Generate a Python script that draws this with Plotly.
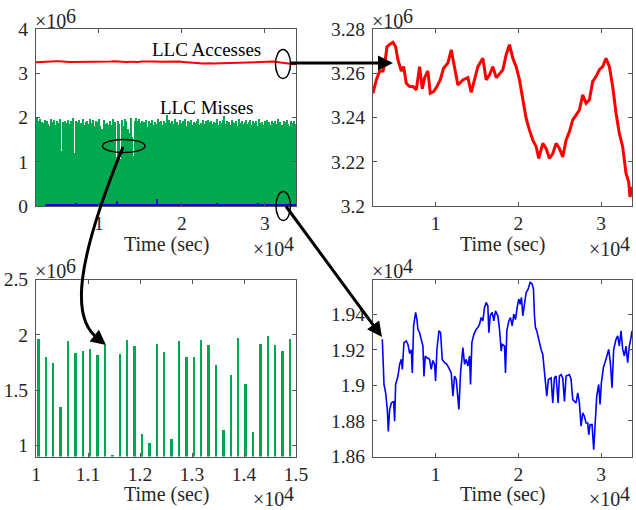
import plotly.graph_objects as go

W, H = 636, 510

# ---------------- data (time in units of 1e4 s) ----------------
# LLC Accesses (x1e6)
red_t = [0.2435, 0.2837, 0.3239, 0.3642, 0.3843, 0.4125, 0.4447, 0.4849, 0.5171, 0.5453,
         0.5855, 0.6137, 0.6459, 0.6861, 0.7264, 0.7666, 0.8068, 0.8390, 0.8672, 0.9074,
         0.9356, 0.9759, 1.0161, 1.0563, 1.0966, 1.1489, 1.1891, 1.2294, 1.2696, 1.3300,
         1.3903, 1.4306, 1.4708, 1.5111, 1.5714, 1.6117, 1.6519, 1.6922, 1.7324, 1.7726,
         1.8129, 1.8531, 1.8934, 1.9336, 1.9738, 2.0141, 2.0543, 2.0946, 2.1348, 2.1751,
         2.2153, 2.2475, 2.2958, 2.3360, 2.3763, 2.4165, 2.4567, 2.4970, 2.5372, 2.5775,
         2.6177, 2.6579, 2.6982, 2.7384, 2.7787, 2.8189, 2.8592, 2.8994, 2.9396, 2.9799,
         3.0201, 3.0604, 3.1006, 3.1408, 3.1811, 3.2213, 3.2616, 3.3018, 3.3340, 3.3501,
         3.3742]
red_v = [3.251, 3.257, 3.261, 3.261, 3.264, 3.272, 3.273, 3.274, 3.272, 3.266,
         3.261, 3.263, 3.2555, 3.254, 3.254, 3.2525, 3.263, 3.253, 3.258, 3.261,
         3.251, 3.2517, 3.254, 3.257, 3.2623, 3.2646, 3.2706, 3.263, 3.2547, 3.257,
         3.258, 3.2513, 3.257, 3.263, 3.2668, 3.257, 3.2593, 3.263, 3.258, 3.260,
         3.2615, 3.2684, 3.2729, 3.2668, 3.263, 3.257, 3.248, 3.2396, 3.2343, 3.2298,
         3.2268, 3.2215, 3.2283, 3.226, 3.2215, 3.2237, 3.2283, 3.226, 3.2222, 3.2298,
         3.2336, 3.2389, 3.2411, 3.2434, 3.2502, 3.2464, 3.248, 3.2563, 3.2585, 3.2616,
         3.263, 3.2668, 3.263, 3.254, 3.2419, 3.2328, 3.2268, 3.2147, 3.2109, 3.2041,
         3.2087]

# blue series (x1e4)
blue_t = [0.3561, 0.3642, 0.3763, 0.3964, 0.4165, 0.4286, 0.4447, 0.4648, 0.4930, 0.5050,
          0.5171, 0.5453, 0.5654, 0.5855, 0.5976, 0.6177, 0.6459, 0.6660, 0.6861, 0.7062,
          0.7183, 0.7344, 0.7586, 0.7746, 0.7867, 0.8068, 0.8270, 0.8471, 0.8592, 0.8753,
          0.8954, 0.9276, 0.9477, 0.9678, 0.9879, 1.0000, 1.0161, 1.0402, 1.0604, 1.0805,
          1.1087, 1.1368, 1.1690, 1.1891, 1.2093, 1.2294, 1.2495, 1.2817, 1.3018, 1.3300,
          1.3501, 1.3702, 1.3903, 1.4105, 1.4225, 1.4386, 1.4628, 1.4909, 1.5111, 1.5312,
          1.5513, 1.5714, 1.5915, 1.6117, 1.6318, 1.6439, 1.6600, 1.6841, 1.7042, 1.7243,
          1.7525, 1.7726, 1.7928, 1.8048, 1.8330, 1.8451, 1.8612, 1.8853, 1.9054, 1.9256,
          1.9457, 1.9658, 1.9859, 2.0060, 2.0221, 2.0382, 2.0543, 2.0744, 2.0946, 2.1187,
          2.1429, 2.1670, 2.1831, 2.1952, 2.2072, 2.2233, 2.2475, 2.2757, 2.2958, 2.3119,
          2.3280, 2.3441, 2.3642, 2.3964, 2.4165, 2.4366, 2.4567, 2.4809, 2.4970, 2.5171,
          2.5372, 2.5573, 2.5775, 2.6177, 2.6378, 2.6579, 2.6781, 2.6982, 2.7183, 2.7384,
          2.7586, 2.7787, 2.7988, 2.8189, 2.8390, 2.8511, 2.8672, 2.8913, 2.9115, 2.9235,
          2.9477, 2.9718, 2.9879, 3.0040, 3.0282, 3.0523, 3.0724, 3.0926, 3.1127, 3.1328,
          3.1529, 3.1811, 3.2012, 3.2213, 3.2414, 3.2616, 3.2817, 3.3018, 3.3219, 3.3421,
          3.3622, 3.3742]
blue_v = [1.9259, 1.9165, 1.9005, 1.8958, 1.8864, 1.8741, 1.8864, 1.8901, 1.8910, 1.8798,
          1.9005, 1.9052, 1.9118, 1.9146, 1.9090, 1.9240, 1.9250, 1.9230, 1.9180, 1.9200,
          1.9070, 1.9334, 1.9410, 1.9370, 1.9315, 1.9296, 1.9250, 1.9221, 1.9050, 1.9165,
          1.9155, 1.9146, 1.9090, 1.9140, 1.9118, 1.9024, 1.9200, 1.9306, 1.9296, 1.9146,
          1.9127, 1.9118, 1.9090, 1.9070, 1.8939, 1.9052, 1.9033, 1.8864, 1.9070, 1.9212,
          1.9118, 1.9146, 1.9108, 1.9165, 1.9005, 1.9240, 1.9287, 1.9315, 1.9325, 1.9344,
          1.9381, 1.9362, 1.9438, 1.9466, 1.9447, 1.9296, 1.9391, 1.9410, 1.9362, 1.9419,
          1.9391, 1.9315, 1.9193, 1.9230, 1.9221, 1.9070, 1.9306, 1.9362, 1.9381, 1.9334,
          1.9400, 1.9370, 1.9438, 1.9485, 1.9456, 1.9494, 1.9391, 1.9447, 1.9522, 1.9541,
          1.9579, 1.9570, 1.9541, 1.9391, 1.9325, 1.9306, 1.9250, 1.9202, 1.9174, 1.9090,
          1.9014, 1.8939, 1.9033, 1.9042, 1.8901, 1.9042, 1.9052, 1.8901, 1.9052, 1.9061,
          1.9042, 1.8910, 1.9052, 1.9061, 1.9033, 1.8920, 1.8910, 1.8901, 1.8958, 1.8901,
          1.8770, 1.8845, 1.8826, 1.8788, 1.8788, 1.8722, 1.8779, 1.8779, 1.8638, 1.8769,
          1.8939, 1.9005, 1.8892, 1.9014, 1.9099, 1.9136, 1.9165, 1.9202, 1.9127, 1.8986,
          1.9202, 1.9259, 1.9278, 1.9221, 1.9306, 1.9202, 1.9165, 1.9221, 1.9127, 1.9221,
          1.9268, 1.9306]

# small bursts of the blue series seen in the overview (x1e6)
blue_burst_t = [0.45, 0.72, 1.218, 1.45, 1.70, 1.95, 2.20, 2.42, 2.92, 3.10]
blue_burst_v = [0.05, 0.06, 0.11, 0.05, 0.16, 0.05, 0.05, 0.06, 0.07, 0.05]

# LLC Misses peaks (x1e6), one per sampling period
miss_t0 = 0.2364
miss_dt = 0.014235
miss_v = [1.45, 1.98, 1.92, 1.85, 1.96, 1.40, 1.90, 1.88, 1.95, 1.30,
          1.93, 1.86, 1.80, 1.97, 1.12, 1.89, 1.94, 1.84, 1.91, 1.55,
          1.87, 1.96, 1.25, 1.90, 1.82, 1.93, 1.88, 1.35, 1.95, 1.86,
          1.92, 1.79, 1.98, 1.20, 1.91, 1.85, 1.89, 1.94, 1.60, 1.87,
          1.96, 1.83, 1.15, 1.90, 1.93, 1.86, 1.97, 1.42, 1.88, 1.95,
          1.81, 1.92, 1.10, 1.89,
          1.97, 1.80, 1.75, 1.35, 1.95, 1.84, 1.86, 1.88, 1.82, 1.91,
          0.92, 1.83, 1.96, 1.90, 1.11, 1.03, 1.92, 1.85, 1.06, 1.95,
          1.80, 1.80, 1.96, 1.91, 1.73, 1.14, 1.64, 1.98, 1.56, 1.13,
          1.92, 1.99, 1.91, 1.86, 1.97,
          1.88, 1.93, 1.26, 1.90, 1.85, 1.95, 1.79, 1.92, 1.48, 1.87,
          1.94, 1.82, 1.90, 1.18, 1.86, 1.97, 1.89, 1.93, 1.84, 1.38,
          1.91, 1.87, 2.05, 1.80, 1.95, 1.10, 1.88, 1.92, 1.85, 1.96,
          1.52, 1.90, 1.83, 1.94, 1.88, 1.22, 1.91, 1.86, 1.97, 1.81,
          1.93, 1.45, 1.89, 1.95, 1.84, 1.90, 1.15, 1.87, 1.92, 1.96,
          1.82, 1.88, 1.33, 1.94, 1.86, 1.91, 1.79, 1.95, 1.24, 1.89,
          1.93, 1.85, 1.90, 1.58, 1.87, 1.96, 1.83, 1.92, 1.12, 1.88,
          1.94, 2.04, 1.86, 1.91, 1.40, 1.89, 1.84, 1.95, 1.90, 1.20,
          1.87, 1.93, 1.81, 1.96, 1.88, 1.50, 1.92, 1.85, 1.90, 1.94,
          1.16, 1.86, 1.89, 1.95, 1.83, 1.91, 1.36, 1.88, 1.93, 1.80,
          1.97, 1.87, 1.28, 1.90, 1.84, 1.92, 1.86, 1.95, 1.44, 1.89,
          1.82, 1.93, 1.88, 1.14, 1.91, 1.85, 1.96, 1.87, 1.90, 1.55,
          1.84, 1.92, 1.89, 1.30, 1.94, 1.86, 1.80, 1.91, 1.88, 1.75,
          1.93, 1.85]

# tick labels
tl_y_ticks = [0, 1, 2, 3, 4]
tr_y_ticks = [3.2, 3.22, 3.24, 3.26, 3.28]
tr_y_text = ["3.2", "3.22", "3.24", "3.26", "3.28"]
bl_y_ticks = [1, 1.5, 2, 2.5]
bl_y_text = ["1", "1.5", "2", "2.5"]
bl_x_ticks = [1, 1.1, 1.2, 1.3, 1.4, 1.5]
bl_x_text = ["1", "1.1", "1.2", "1.3", "1.4", "1.5"]
br_y_ticks = [1.86, 1.88, 1.9, 1.92, 1.94]
br_y_text = ["1.86", "1.88", "1.9", "1.92", "1.94"]
time_ticks = [1, 2, 3]
time_text = ["1", "2", "3"]

RED = "#ff0000"
BLUE = "#0000ff"
GREEN = "#00a84f"
FONT = "Liberation Serif"
AX = "#555555"
TXT = "#262626"


def px(x):
    return x / W


def py(y):
    return 1 - y / H


fig = go.Figure()

# ---- top-left overview ----
fig.add_trace(go.Bar(x0=miss_t0, dx=miss_dt, y=miss_v, width=miss_dt,
                     marker=dict(color=GREEN, line=dict(width=0)),
                     xaxis="x", yaxis="y", showlegend=False))
fig.add_trace(go.Scatter(x=red_t, y=red_v, mode="lines", line=dict(color=RED, width=2),
                         xaxis="x", yaxis="y", showlegend=False))
fig.add_trace(go.Scatter(x=blue_t, y=[v / 100 for v in blue_v], mode="lines",
                         line=dict(color=BLUE, width=2.2),
                         xaxis="x", yaxis="y", showlegend=False))
fig.add_trace(go.Bar(x=blue_burst_t, y=blue_burst_v, width=0.012,
                     marker=dict(color=BLUE, line=dict(width=0)),
                     xaxis="x", yaxis="y", showlegend=False))

# ---- top-right: LLC accesses zoom ----
fig.add_trace(go.Scatter(x=red_t, y=red_v, mode="lines", line=dict(color=RED, width=3),
                         xaxis="x2", yaxis="y2", showlegend=False))

# ---- bottom-left: LLC misses zoom ----
fig.add_trace(go.Bar(x0=miss_t0, dx=miss_dt, y=miss_v, width=0.0036,
                     marker=dict(color=GREEN, line=dict(width=0)),
                     xaxis="x3", yaxis="y3", showlegend=False))

# ---- bottom-right: blue zoom ----
fig.add_trace(go.Scatter(x=blue_t, y=blue_v, mode="lines", line=dict(color=BLUE, width=1.6),
                         xaxis="x4", yaxis="y4", showlegend=False))

common = dict(showline=True, linecolor=AX, linewidth=1, mirror="ticks", ticks="inside",
              ticklen=4, tickcolor=AX, showgrid=False, zeroline=False, automargin=False,
              tickfont=dict(family=FONT, size=19.5, color=TXT))
ycommon = dict(common, ticklabelstandoff=3)

xl = [px(36), px(296)]
xr = [px(373), px(632)]
yt = [py(206), py(29)]
yb = [py(456.5), py(279.5)]
full_range = [0.2435, 3.3742]

fig.update_layout(
    width=W, height=H, margin=dict(l=0, r=0, t=0, b=0, autoexpand=False),
    font=dict(family=FONT, size=19, color=TXT),
    paper_bgcolor="white", plot_bgcolor="white",
    barmode="overlay", bargap=0,
    xaxis=dict(common, domain=xl, anchor="y", range=full_range,
               tickvals=time_ticks, ticktext=time_text),
    yaxis=dict(ycommon, domain=yt, anchor="x", range=[0, 4], tickvals=tl_y_ticks),
    xaxis2=dict(common, domain=xr, anchor="y2", range=full_range,
                tickvals=time_ticks, ticktext=time_text),
    yaxis2=dict(ycommon, domain=yt, anchor="x2", range=[3.2, 3.28],
                tickvals=tr_y_ticks, ticktext=tr_y_text),
    xaxis3=dict(common, domain=xl, anchor="y3", range=[1, 1.5],
                tickvals=bl_x_ticks, ticktext=bl_x_text),
    yaxis3=dict(ycommon, domain=yb, anchor="x3", range=[0.9, 2.5],
                tickvals=bl_y_ticks, ticktext=bl_y_text),
    xaxis4=dict(common, domain=xr, anchor="y4", range=full_range,
                tickvals=time_ticks, ticktext=time_text),
    yaxis4=dict(ycommon, domain=yb, anchor="x4", range=[1.86, 1.9595],
                tickvals=br_y_ticks, ticktext=br_y_text),
)

annotations = []


def text(x, y, s, size=20, xanchor="center", yanchor="middle", color=TXT):
    annotations.append(dict(x=px(x), y=py(y), xref="paper", yref="paper", text=s,
                            showarrow=False, xanchor=xanchor, yanchor=yanchor,
                            font=dict(family=FONT, size=size, color=color)))


def exponent(x_split, y_base, power):
    # "×10" ending at x_split, raised power right after it
    text(x_split + 1, y_base, "×10", xanchor="right")
    text(x_split - 3, y_base - 5.5, power, xanchor="left")


# axis titles
for cx, cy in [(166, 244), (502, 244), (166, 494), (502, 494)]:
    text(cx, cy, "Time (sec)")
# exponent labels (top-left of each y axis)
exponent(67, 21, "6")
exponent(404, 21, "6")
exponent(67, 271, "6")
exponent(404, 271, "4")
# exponent labels (bottom-right of each x axis)
exponent(285, 249, "4")
exponent(621, 249, "4")
exponent(285, 499, "4")
exponent(621, 499, "4")
# series labels
text(206, 50, "LLC Accesses", size=19, color="black")
text(206, 107, "LLC Misses", size=19, color="black")


def arrow(x_tip, y_tip, x_tail, y_tail):
    annotations.append(dict(x=px(x_tip), y=py(y_tip), xref="paper", yref="paper",
                            ax=x_tail - x_tip, ay=y_tail - y_tip, text="",
                            showarrow=True, arrowhead=2, arrowsize=1, arrowwidth=3,
                            arrowcolor="black", standoff=0, startstandoff=0))


arrow(393, 63, 289, 63)
arrow(382, 337, 285, 205)
arrow(106, 345, 96, 337)

fig.update_layout(annotations=annotations)

shapes = []


def ellipse(x0, y0, x1, y1):
    shapes.append(dict(type="circle", xref="paper", yref="paper",
                       x0=px(x0), x1=px(x1), y0=py(y1), y1=py(y0),
                       line=dict(color="black", width=1.5)))


ellipse(275.5, 49.5, 290.5, 78.5)
ellipse(102.5, 139.5, 145, 152.5)
ellipse(276, 191.5, 290.5, 220.5)

pts = [(123, 147), (76, 262), (70, 320), (99, 339)]
path = "M {:.5f},{:.5f} C {:.5f},{:.5f} {:.5f},{:.5f} {:.5f},{:.5f}".format(
    *[c for p in pts for c in (px(p[0]), py(p[1]))])
shapes.append(dict(type="path", xref="paper", yref="paper", path=path,
                   line=dict(color="black", width=3)))

fig.update_layout(shapes=shapes)

fig.write_html("out.html", config={"displayModeBar": False},
               post_script="document.body.style.margin='0';"
                           "document.body.style.padding='0';"
                           "document.body.style.overflow='hidden';")
